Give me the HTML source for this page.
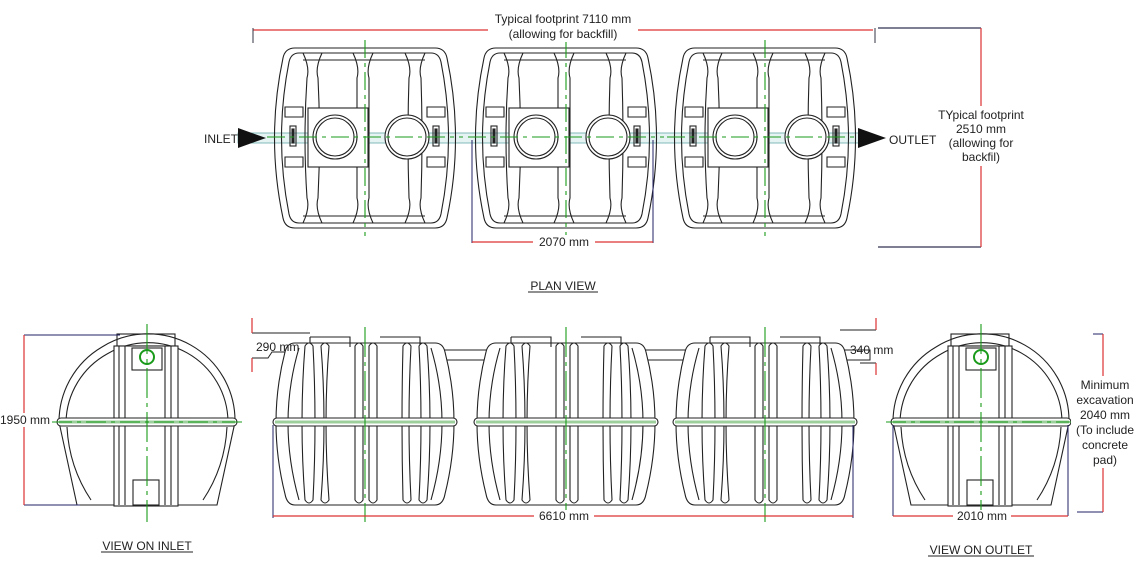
<!DOCTYPE html>
<html><head><meta charset="utf-8"><style>
html,body{margin:0;padding:0;background:#fff;}
svg{display:block;font-family:"Liberation Sans",Arial,sans-serif;}
</style></head><body>
<svg width="1139" height="575" viewBox="0 0 1139 575" xmlns="http://www.w3.org/2000/svg">
<defs>
<g id="plan" fill="none" stroke="#222" stroke-width="1.1">
  <path d="M-70,-90 L70,-90 Q80,-90 82,-80 Q99,0 82,80 Q80,90 70,90 L-70,90 Q-80,90 -82,80 Q-99,0 -82,-80 Q-80,-90 -70,-90 Z"/>
  <path d="M-66,-85 L66,-85 Q74,-85 76,-76 Q91,0 76,76 Q74,85 66,85 L-66,85 Q-74,85 -76,76 Q-91,0 -76,-76 Q-74,-85 -66,-85 Z"/>
  <path d="M-62,-85 Q-55,-70 -58,-60 Q-62,0 -58,60 Q-55,70 -62,85"/>
  <path d="M-43,-85 Q-50,-70 -47,-60 Q-44,0 -47,60 Q-50,70 -43,85"/>
  <path d="M-12,-85 Q-5,-70 -8,-60 L-8,60 Q-5,70 -12,85"/>
  <path d="M8,-85 Q1,-70 4,-60 L4,60 Q1,70 8,85"/>
  <path d="M40,-85 Q47,-70 44,-60 Q42,0 44,60 Q47,70 40,85"/>
  <path d="M60,-85 Q53,-70 56,-60 Q58,0 56,60 Q53,70 60,85"/>
  <line x1="-62" y1="-78" x2="60" y2="-78"/>
  <line x1="-62" y1="78" x2="60" y2="78"/>
  <rect x="-57" y="-30" width="60" height="59" fill="#fff"/>
  <circle cx="-30" cy="-1" r="22" fill="#fff"/><circle cx="-30" cy="-1" r="19"/>
  <circle cx="42" cy="-1" r="22" fill="#fff"/><circle cx="42" cy="-1" r="19"/>
  <path d="M-80,-31 h18 v10 h-18 z M-80,19 h18 v10 h-18 z M62,-31 h18 v10 h-18 z M62,19 h18 v10 h-18 z"/>
  <rect x="-75" y="-12" width="6" height="20"/><rect x="-73" y="-9" width="2" height="14" fill="#222"/>
  <rect x="68" y="-12" width="6" height="20"/><rect x="70" y="-9" width="2" height="14" fill="#222"/>
  <g stroke="#1a9a1a" stroke-width="1.1" stroke-dasharray="18,5,4,5">
    <line x1="0" y1="-98" x2="0" y2="98"/>
    <line x1="-98" y1="-1" x2="98" y2="-1"/>
  </g>
</g>
<g id="side" fill="none" stroke="#222" stroke-width="1.1">
  <path d="M-70,-79 L70,-79 Q78,-79 80,-70 Q98,0 80,72 Q78,83 70,83 L-70,83 Q-78,83 -80,72 Q-98,0 -80,-70 Q-78,-79 -70,-79 Z" fill="#fff"/>
  <path d="M-66,-74 Q-88,0 -66,78 M66,-74 Q88,0 66,78"/>
  <path d="M-55,-85 h40 v10 M15,-85 h40 v10 M-55,-85 v8"/>
  <g>
   <path d="M-60,-76 q4,-6 8,0 Q-48,0 -52,78 q-4,6 -8,0 Q-66,0 -60,-76 z" fill="#fff"/>
   <path d="M-44,-76 q4,-6 8,0 Q-42,0 -36,78 q-4,6 -8,0 Q-38,0 -44,-76 z" fill="#fff"/>
   <path d="M-10,-76 q4,-6 8,0 L-2,78 q-4,6 -8,0 Z" fill="#fff"/>
   <path d="M4,-76 q4,-6 8,0 L12,78 q-4,6 -8,0 Z" fill="#fff"/>
   <path d="M38,-76 q4,-6 8,0 Q42,0 46,78 q-4,6 -8,0 Q36,0 38,-76 z" fill="#fff"/>
   <path d="M54,-76 q4,-6 8,0 Q68,0 62,78 q-4,6 -8,0 Q58,0 54,-76 z" fill="#fff"/>
  </g>
  <rect x="-92" y="-4" width="184" height="8" rx="4" fill="#fff"/>
  <line x1="-90" y1="0" x2="90" y2="0" stroke="#9ccf9c" stroke-width="3"/>
  <line x1="0" y1="-95" x2="0" y2="100" stroke="#1a9a1a" stroke-dasharray="30,5,4,5"/>
</g>
<g id="end" fill="none" stroke="#222" stroke-width="1.1">
  <path d="M-45,-75 A87,87 0 0 1 88,0 L70,83 L-70,83 L-88,0 A87,87 0 0 1 -45,-75 Z" fill="#fff"/>
  <path d="M-40,-68 A80,80 0 0 1 81,0 M-81,0 A80,80 0 0 1 -40,-68 M-80,5 Q-78,45 -56,78 M80,5 Q78,45 56,78"/>
  <rect x="-30" y="-88" width="58" height="12"/>
  <rect x="-33" y="-76" width="64" height="160" fill="#fff"/>
  <path d="M-28,-76 V83 M-22,-76 V83 M18,-76 V83 M24,-76 V83"/>
  <rect x="-15" y="-74" width="30" height="22"/>
  <circle cx="0" cy="-65" r="7" stroke="#1a9a1a" stroke-width="2"/>
  <rect x="-14" y="58" width="26" height="25"/>
  <rect x="-90" y="-4" width="180" height="8" rx="4" fill="#fff"/>
  <line x1="-88" y1="0" x2="88" y2="0" stroke="#9ccf9c" stroke-width="3"/>
  <line x1="-95" y1="0" x2="95" y2="0" stroke="#1a9a1a" stroke-dasharray="20,5,4,5"/>
  <line x1="0" y1="-98" x2="0" y2="100" stroke="#1a9a1a" stroke-dasharray="30,5,4,5"/>
</g>
</defs>

<!-- PLAN -->
<rect x="238" y="133" width="625" height="10" fill="#e6f3f3" stroke="#6aa" stroke-width="0.8"/>
<use href="#plan" x="365" y="138"/>
<use href="#plan" x="566" y="138"/>
<use href="#plan" x="765" y="138"/>
<polygon points="238,128 266,138 238,148" fill="#111"/>
<polygon points="858,128 886,138 858,148" fill="#111"/>

<line x1="253" y1="30" x2="873" y2="30" stroke="#d33" stroke-width="1.2"/>
<line x1="253" y1="28" x2="253" y2="43" stroke="#334" />
<line x1="875" y1="28" x2="875" y2="43" stroke="#334" />
<line x1="878" y1="28" x2="981" y2="28" stroke="#335" stroke-width="1.2"/>
<line x1="878" y1="247" x2="981" y2="247" stroke="#335" stroke-width="1.2"/>
<line x1="981" y1="28" x2="981" y2="247" stroke="#d33" stroke-width="1.2"/>
<rect x="488" y="10" width="150" height="32" fill="#fff"/>
<text x="563" y="23" font-size="12" text-anchor="middle" fill="#222">Typical footprint 7110 mm</text>
<text x="563" y="38" font-size="12" text-anchor="middle" fill="#222">(allowing for backfill)</text>
<rect x="950" y="106" width="62" height="60" fill="#fff"/>
<g font-size="12" text-anchor="middle" fill="#222">
<text x="981" y="119">TYpical footprint</text>
<text x="981" y="133">2510 mm</text>
<text x="981" y="147">(allowing for</text>
<text x="981" y="161">backfil)</text>
</g>
<text x="204" y="143" font-size="12" fill="#222">INLET</text>
<text x="889" y="144" font-size="12" fill="#222">OUTLET</text>
<line x1="472" y1="140" x2="472" y2="243" stroke="#226" stroke-width="1"/>
<line x1="653" y1="140" x2="653" y2="243" stroke="#226" stroke-width="1"/>
<line x1="472" y1="242" x2="653" y2="242" stroke="#d33" stroke-width="1.2"/>
<rect x="533" y="235" width="62" height="12" fill="#fff"/>
<text x="564" y="246" font-size="12" text-anchor="middle" fill="#222">2070 mm</text>
<text x="563" y="290" font-size="12" text-anchor="middle" fill="#222">PLAN VIEW</text>
<line x1="528" y1="292" x2="598" y2="292" stroke="#222"/>

<!-- SIDE -->
<path d="M252,333 H310 M252,358 H268 L272,352 H860 M840,330 H876 M860,363 H876" stroke="#222" fill="none"/>
<rect x="440" y="350" width="430" height="10" fill="#fff" stroke="#222"/>
<use href="#side" x="365" y="422"/>
<use href="#side" x="566" y="422"/>
<use href="#side" x="765" y="422"/>
<path d="M252,318 V333 M252,358 V372 M876,318 V330 M876,363 V375" stroke="#d33" stroke-width="1.2"/>
<text x="256" y="351" font-size="12" fill="#222">290 mm</text>
<text x="850" y="354" font-size="12" fill="#222">340 mm</text>
<line x1="273" y1="425" x2="273" y2="518" stroke="#226"/>
<line x1="853" y1="425" x2="853" y2="518" stroke="#226"/>
<line x1="273" y1="516" x2="853" y2="516" stroke="#d33" stroke-width="1.2"/>
<rect x="534" y="510" width="60" height="12" fill="#fff"/>
<text x="564" y="520" font-size="12" text-anchor="middle" fill="#222">6610 mm</text>

<!-- ENDS -->
<use href="#end" x="147" y="422"/>
<use href="#end" x="981" y="422"/>
<line x1="24" y1="335" x2="120" y2="335" stroke="#226"/>
<line x1="24" y1="505" x2="80" y2="505" stroke="#226"/>
<line x1="24" y1="335" x2="24" y2="505" stroke="#d33" stroke-width="1.2"/>
<rect x="0" y="413" width="50" height="14" fill="#fff"/>
<text x="0" y="424" font-size="12" fill="#222">1950 mm</text>
<text x="147" y="550" font-size="12" text-anchor="middle" fill="#222">VIEW ON INLET</text>
<line x1="101" y1="552" x2="193" y2="552" stroke="#222"/>

<line x1="893" y1="425" x2="893" y2="516" stroke="#226"/>
<line x1="1068" y1="425" x2="1068" y2="516" stroke="#226"/>
<line x1="893" y1="516" x2="1068" y2="516" stroke="#d33" stroke-width="1.2"/>
<rect x="953" y="510" width="58" height="12" fill="#fff"/>
<text x="982" y="520" font-size="12" text-anchor="middle" fill="#222">2010 mm</text>
<line x1="1093" y1="334" x2="1103" y2="334" stroke="#226"/>
<line x1="1077" y1="512" x2="1103" y2="512" stroke="#226"/>
<line x1="1103" y1="334" x2="1103" y2="512" stroke="#d33" stroke-width="1.2"/>
<rect x="1071" y="376" width="68" height="92" fill="#fff"/>
<g font-size="12" text-anchor="middle" fill="#222">
<text x="1105" y="389">Minimum</text>
<text x="1105" y="404">excavation</text>
<text x="1105" y="419">2040 mm</text>
<text x="1105" y="434">(To include</text>
<text x="1105" y="449">concrete</text>
<text x="1105" y="464">pad)</text>
</g>
<text x="981" y="554" font-size="12" text-anchor="middle" fill="#222">VIEW ON OUTLET</text>
<line x1="928" y1="556" x2="1034" y2="556" stroke="#222"/>
</svg>
</body></html>
